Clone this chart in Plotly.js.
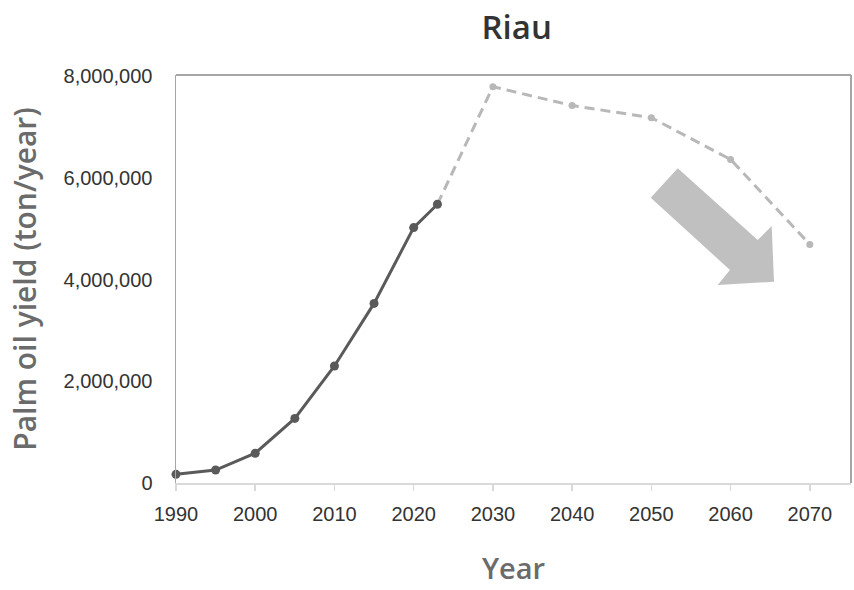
<!DOCTYPE html>
<html>
<head>
<meta charset="utf-8">
<script src="https://cdn.plot.ly/plotly-3.0.1.min.js"></script>
<style>html,body{margin:0;padding:0;background:#fff;}#chart{width:854px;height:590px;}</style>
</head>
<body>
<div id="chart"></div>
<script>
// Observed yields
var obsYears = [1990, 1995, 2000, 2005, 2010, 2015, 2020, 2023];
var obsYield = [170000, 255000, 585000, 1270000, 2300000, 3530000, 5020000, 5480000];
// Projected yields
var projYears = [2023, 2030, 2040, 2050, 2060, 2070];
var projYield = [5480000, 7790000, 7420000, 7180000, 6360000, 4690000];
var xTicks = [1990, 2000, 2010, 2020, 2030, 2040, 2050, 2060, 2070];
var yTicks = [0, 2000000, 4000000, 6000000, 8000000];
var yTickText = ['0', '2,000,000', '4,000,000', '6,000,000', '8,000,000'];

var traces = [
  {x: projYears, y: projYield, mode: 'lines+markers', type: 'scatter',
   line: {color: '#b8b8b8', width: 3, dash: '10px,6px'},
   marker: {color: '#b8b8b8', size: 7}, cliponaxis: false, hoverinfo: 'x+y'},
  {x: obsYears, y: obsYield, mode: 'lines+markers', type: 'scatter',
   line: {color: '#5a5a5a', width: 3},
   marker: {color: '#5a5a5a', size: 9}, cliponaxis: false, hoverinfo: 'x+y'}
];

var arrowPath = 'M0.7433,0.7713 L0.8618,0.5956 L0.8825,0.6299 L0.8859,0.4934 L0.8025,0.4853 L0.8207,0.5221 L0.7033,0.6993 Z';

var layout = {
  width: 854, height: 590,
  margin: {l: 176, r: 3, t: 75, b: 107},
  paper_bgcolor: '#ffffff', plot_bgcolor: '#ffffff',
  showlegend: false,
  title: {text: 'Riau', font: {family: 'Open Sans, sans-serif', size: 33, weight: 600, color: '#333333'},
          x: 0.605, xanchor: 'center', y: 0.953, yanchor: 'middle'},
  xaxis: {
    range: [1990, 2075.2], tickvals: xTicks, ticktext: xTicks.map(String),
    showgrid: false, zeroline: false,
    showline: true, linecolor: '#d9d9d9', linewidth: 2,
    ticks: 'outside', ticklen: 6, tickcolor: '#d9d9d9', tickwidth: 1.5,
    ticklabelstandoff: 6,
    tickfont: {family: 'Liberation Sans, Arial, sans-serif', size: 20, color: '#333333'},
    title: {text: 'Year', font: {family: 'Open Sans, sans-serif', size: 29, weight: 600, color: '#6b6b6b'}, standoff: 35},
    mirror: false
  },
  yaxis: {
    range: [0, 8020000], tickvals: yTicks, ticktext: yTickText,
    showgrid: false, zeroline: false,
    showline: true, linecolor: '#a6a6a6', linewidth: 1.5,
    ticks: '', ticklen: 0, ticklabelstandoff: 18,
    tickfont: {family: 'Liberation Sans, Arial, sans-serif', size: 20, color: '#333333'},
    title: {text: 'Palm oil yield (ton/year)', font: {family: 'Open Sans, sans-serif', size: 30, weight: 600, color: '#6b6b6b'}, standoff: 18}
  },
  shapes: [
    {type: 'line', xref: 'paper', yref: 'paper', x0: 0, x1: 1, y0: 1, y1: 1, line: {color: '#a6a6a6', width: 2}},
    {type: 'line', xref: 'paper', yref: 'paper', x0: 1, x1: 1, y0: 0, y1: 1, line: {color: '#a6a6a6', width: 2}},
    {type: 'path', xref: 'paper', yref: 'paper', path: arrowPath, fillcolor: '#c0c0c0', line: {width: 0}, layer: 'below'}
  ]
};

Plotly.newPlot('chart', traces, layout, {displayModeBar: false, staticPlot: true});
</script>
</body>
</html>
